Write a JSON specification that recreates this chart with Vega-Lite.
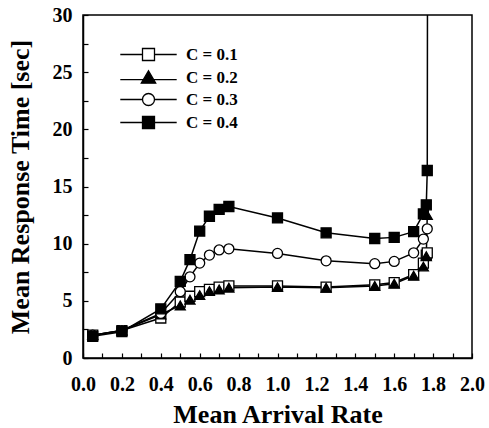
{
  "$schema": "https://vega.github.io/schema/vega-lite/v6.json",
  "width": 389,
  "height": 343,
  "autosize": {"type": "none"},
  "padding": {"left": 83, "top": 15, "right": 17, "bottom": 70},
  "background": "white",
  "config": {
    "view": {"stroke": "black", "strokeWidth": 1.5},
    "font": "Liberation Serif",
    "axis": {
      "labelFont": "Liberation Serif",
      "labelFontSize": 20,
      "labelFontWeight": "bold",
      "labelColor": "black",
      "labelFlush": false,
      "titleFont": "Liberation Serif",
      "titleFontSize": 26,
      "titleFontWeight": "bold",
      "titleColor": "black",
      "domainColor": "black",
      "domainWidth": 1.5,
      "tickColor": "black",
      "tickWidth": 1.2,
      "grid": false,
      "labelOverlap": false
    }
  },
  "datasets": {
    "series": [
      {"x": 0.05, "y": 2.0, "C": "C = 0.1"},
      {"x": 0.2, "y": 2.4, "C": "C = 0.1"},
      {"x": 0.4, "y": 3.5, "C": "C = 0.1"},
      {"x": 0.5, "y": 4.9, "C": "C = 0.1"},
      {"x": 0.55, "y": 5.4, "C": "C = 0.1"},
      {"x": 0.6, "y": 5.8, "C": "C = 0.1"},
      {"x": 0.65, "y": 6.0, "C": "C = 0.1"},
      {"x": 0.7, "y": 6.2, "C": "C = 0.1"},
      {"x": 0.75, "y": 6.3, "C": "C = 0.1"},
      {"x": 1.0, "y": 6.3, "C": "C = 0.1"},
      {"x": 1.25, "y": 6.2, "C": "C = 0.1"},
      {"x": 1.5, "y": 6.4, "C": "C = 0.1"},
      {"x": 1.6, "y": 6.6, "C": "C = 0.1"},
      {"x": 1.7, "y": 7.3, "C": "C = 0.1"},
      {"x": 1.75, "y": 8.3, "C": "C = 0.1"},
      {"x": 1.765, "y": 9.0, "C": "C = 0.1"},
      {"x": 1.77, "y": 9.2, "C": "C = 0.1"},
      {"x": 0.05, "y": 2.0, "C": "C = 0.2"},
      {"x": 0.2, "y": 2.4, "C": "C = 0.2"},
      {"x": 0.4, "y": 3.8, "C": "C = 0.2"},
      {"x": 0.5, "y": 4.6, "C": "C = 0.2"},
      {"x": 0.55, "y": 5.1, "C": "C = 0.2"},
      {"x": 0.6, "y": 5.5, "C": "C = 0.2"},
      {"x": 0.65, "y": 5.85, "C": "C = 0.2"},
      {"x": 0.7, "y": 6.0, "C": "C = 0.2"},
      {"x": 0.75, "y": 6.15, "C": "C = 0.2"},
      {"x": 1.0, "y": 6.2, "C": "C = 0.2"},
      {"x": 1.25, "y": 6.15, "C": "C = 0.2"},
      {"x": 1.5, "y": 6.3, "C": "C = 0.2"},
      {"x": 1.6, "y": 6.5, "C": "C = 0.2"},
      {"x": 1.7, "y": 7.2, "C": "C = 0.2"},
      {"x": 1.75, "y": 8.0, "C": "C = 0.2"},
      {"x": 1.765, "y": 8.9, "C": "C = 0.2"},
      {"x": 1.77, "y": 12.5, "C": "C = 0.2"},
      {"x": 0.05, "y": 2.0, "C": "C = 0.3"},
      {"x": 0.2, "y": 2.4, "C": "C = 0.3"},
      {"x": 0.4, "y": 3.9, "C": "C = 0.3"},
      {"x": 0.5, "y": 5.8, "C": "C = 0.3"},
      {"x": 0.55, "y": 7.1, "C": "C = 0.3"},
      {"x": 0.6, "y": 8.3, "C": "C = 0.3"},
      {"x": 0.65, "y": 9.0, "C": "C = 0.3"},
      {"x": 0.7, "y": 9.45, "C": "C = 0.3"},
      {"x": 0.75, "y": 9.55, "C": "C = 0.3"},
      {"x": 1.0, "y": 9.15, "C": "C = 0.3"},
      {"x": 1.25, "y": 8.5, "C": "C = 0.3"},
      {"x": 1.5, "y": 8.25, "C": "C = 0.3"},
      {"x": 1.6, "y": 8.45, "C": "C = 0.3"},
      {"x": 1.7, "y": 9.2, "C": "C = 0.3"},
      {"x": 1.75, "y": 10.4, "C": "C = 0.3"},
      {"x": 1.77, "y": 11.3, "C": "C = 0.3"},
      {"x": 0.05, "y": 1.9, "C": "C = 0.4"},
      {"x": 0.2, "y": 2.3, "C": "C = 0.4"},
      {"x": 0.4, "y": 4.3, "C": "C = 0.4"},
      {"x": 0.5, "y": 6.7, "C": "C = 0.4"},
      {"x": 0.55, "y": 8.6, "C": "C = 0.4"},
      {"x": 0.6, "y": 11.1, "C": "C = 0.4"},
      {"x": 0.65, "y": 12.4, "C": "C = 0.4"},
      {"x": 0.7, "y": 13.0, "C": "C = 0.4"},
      {"x": 0.75, "y": 13.25, "C": "C = 0.4"},
      {"x": 1.0, "y": 12.25, "C": "C = 0.4"},
      {"x": 1.25, "y": 10.95, "C": "C = 0.4"},
      {"x": 1.5, "y": 10.45, "C": "C = 0.4"},
      {"x": 1.6, "y": 10.55, "C": "C = 0.4"},
      {"x": 1.7, "y": 11.05, "C": "C = 0.4"},
      {"x": 1.75, "y": 12.6, "C": "C = 0.4"},
      {"x": 1.765, "y": 13.4, "C": "C = 0.4"},
      {"x": 1.77, "y": 16.4, "C": "C = 0.4"},
      {"x": 1.772, "y": 45, "C": "C = 0.4"}
    ]
  },
  "data": {"name": "series"},
  "encoding": {
    "x": {
      "field": "x",
      "type": "quantitative",
      "scale": {"domain": [0, 2], "nice": false, "zero": false},
      "axis": {
        "title": "Mean Arrival Rate",
        "values": [0, 0.1, 0.2, 0.3, 0.4, 0.5, 0.6, 0.7, 0.8, 0.9, 1.0, 1.1, 1.2, 1.3, 1.4, 1.5, 1.6, 1.7, 1.8, 1.9, 2.0],
        "labelExpr": "round(datum.value*10) % 2 == 0 ? format(datum.value, '.1f') : ''",
        "tickSize": -5,
        "labelPadding": 21,
        "titlePadding": 7
      }
    },
    "y": {
      "field": "y",
      "type": "quantitative",
      "scale": {"domain": [0, 30], "nice": false},
      "axis": {
        "title": "Mean Response Time [sec]",
        "values": [0, 2.5, 5, 7.5, 10, 12.5, 15, 17.5, 20, 22.5, 25, 27.5, 30],
        "labelExpr": "round(datum.value*2) % 2 == 0 ? format(datum.value, 'd') : ''",
        "tickSize": -5,
        "labelPadding": 16,
        "titlePadding": 19
      }
    }
  },
  "layer": [
    {
      "mark": {"type": "line", "color": "black", "strokeWidth": 1.5, "clip": true},
      "encoding": {"detail": {"field": "C"}}
    },
    {
      "mark": {"type": "point", "filled": true, "stroke": "black", "strokeWidth": 1.3, "opacity": 1, "size": 100, "clip": true},
      "encoding": {
        "shape": {
          "field": "C",
          "type": "nominal",
          "scale": {"domain": ["C = 0.1", "C = 0.2", "C = 0.3", "C = 0.4"], "range": ["square", "triangle-up", "circle", "square"]},
          "legend": null
        },
        "fill": {
          "field": "C",
          "type": "nominal",
          "scale": {"domain": ["C = 0.1", "C = 0.2", "C = 0.3", "C = 0.4"], "range": ["white", "black", "white", "black"]},
          "legend": null
        }
      }
    },
    {
      "mark": {"type": "point", "filled": true, "opacity": 0, "size": 100},
      "encoding": {
        "fill": {
          "field": "C",
          "type": "nominal",
          "scale": {"domain": ["C = 0.1", "C = 0.2", "C = 0.3", "C = 0.4"], "range": ["white", "black", "white", "black"]},
          "legend": {
            "orient": "none", "legendX": 57, "legendY": 31, "title": null, "padding": 0,
            "labelFont": "Liberation Serif", "labelFontSize": 17, "labelFontWeight": "bold", "labelColor": "black",
            "symbolSize": 144, "labelOffset": 29, "rowPadding": 4,
            "encode": {"symbols": {"update": {
              "stroke": {"value": "black"},
              "strokeWidth": {"value": 1.3},
              "opacity": {"value": 1},
              "shape": {"signal": "datum.value == 'C = 0.2' ? 'M-4.7,0.35H-0.9M0.9,0.35H4.7M0,-1.1L1.2,0.95H-1.2Z' : datum.value == 'C = 0.3' ? 'M-4.7,0H-1M1,0H4.7M1,0A1,1 0 1,1 -1,0A1,1 0 1,1 1,0Z' : 'M-4.7,0H-1M1,0H4.7M-1,-1H1V1H-1Z'"}
            }}}
          }
        }
      }
    }
  ],
  "resolve": {"scale": {"fill": "independent"}, "legend": {"fill": "independent"}}
}
